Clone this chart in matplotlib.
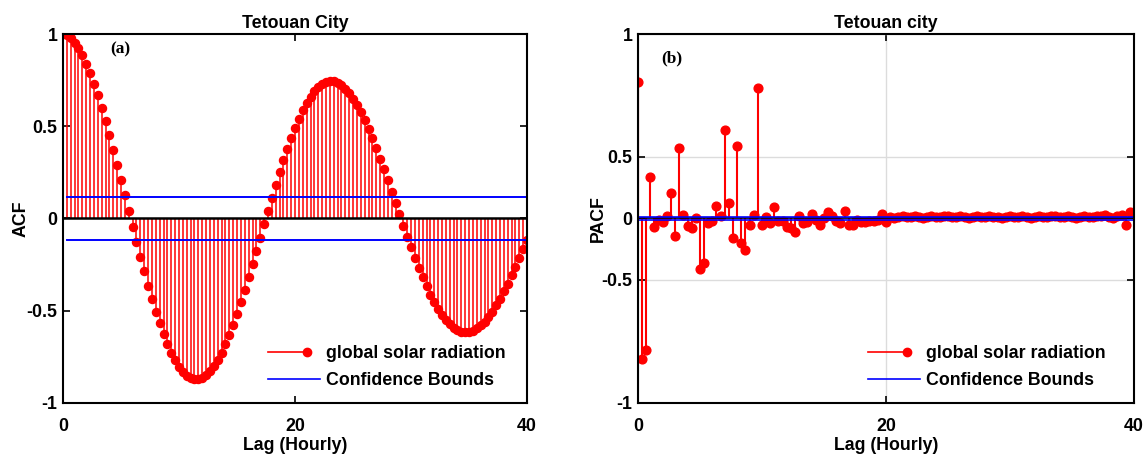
import numpy as np
import matplotlib
matplotlib.use("Agg")
import matplotlib.pyplot as plt
from matplotlib.lines import Line2D
from matplotlib.legend_handler import HandlerBase

plt.rcParams["font.family"] = ["Liberation Sans", "DejaVu Sans"]
plt.rcParams["font.weight"] = "bold"
plt.rcParams["axes.labelweight"] = "bold"
plt.rcParams["axes.titleweight"] = "bold"
plt.rcParams["font.size"] = 12.8

# lags sampled every 20 minutes, 0..40 hours
lags = np.arange(121) / 3

acf = [
    1.000, 0.992, 0.977, 0.953, 0.922, 0.885, 0.839, 0.788, 0.730, 0.668,
    0.600, 0.528, 0.452, 0.373, 0.292, 0.209, 0.125, 0.040, -0.044, -0.127,
    -0.208, -0.287, -0.364, -0.436, -0.505, -0.568, -0.627, -0.680, -0.728, -0.769,
    -0.803, -0.831, -0.852, -0.866, -0.872, -0.872, -0.865, -0.849, -0.829, -0.801,
    -0.767, -0.727, -0.682, -0.631, -0.576, -0.517, -0.454, -0.388, -0.319, -0.249,
    -0.177, -0.104, -0.031, 0.041, 0.113, 0.183, 0.251, 0.316, 0.378, 0.437,
    0.491, 0.541, 0.586, 0.626, 0.660, 0.689, 0.712, 0.728, 0.740, 0.745,
    0.743, 0.736, 0.723, 0.704, 0.680, 0.650, 0.616, 0.577, 0.533, 0.485,
    0.435, 0.381, 0.325, 0.267, 0.207, 0.146, 0.084, 0.023, -0.038, -0.098,
    -0.156, -0.213, -0.268, -0.319, -0.367, -0.412, -0.454, -0.490, -0.523, -0.551,
    -0.574, -0.592, -0.605, -0.613, -0.617, -0.615, -0.608, -0.596, -0.580, -0.559,
    -0.534, -0.505, -0.471, -0.435, -0.395, -0.353, -0.309, -0.263, -0.214, -0.166,
    -0.116,
]

pacf = [
    1.11, -1.14, -1.07, 0.34, -0.07, -0.01, -0.03, 0.02, 0.21, -0.14,
    0.57, 0.03, -0.06, -0.08, 0.00, -0.41, -0.36, -0.04, -0.02, 0.10,
    0.02, 0.72, 0.13, -0.16, 0.59, -0.20, -0.26, -0.05, 0.03, 1.06,
    -0.05, 0.01, -0.04, 0.09, -0.02, -0.02, -0.07, -0.08, -0.11, 0.02,
    -0.04, -0.03, 0.04, -0.01, -0.05, 0.00, 0.05, 0.02, -0.02, -0.04,
    0.06, -0.05, -0.05, -0.01, -0.03, -0.03, -0.02, -0.02, -0.01, 0.04,
    -0.03, 0.01, 0.00, 0.01, 0.02, 0.01, 0.01, 0.02, 0.01, 0.00,
    0.01, 0.02, 0.01, 0.01, 0.02, 0.02, 0.01, 0.01, 0.02, 0.01,
    0.00, 0.01, 0.02, 0.01, 0.01, 0.02, 0.01, 0.01, 0.00, 0.01,
    0.02, 0.01, 0.01, 0.02, 0.01, 0.00, 0.01, 0.02, 0.01, 0.01,
    0.02, 0.02, 0.01, 0.01, 0.02, 0.01, 0.00, 0.01, 0.02, 0.01,
    0.01, 0.02, 0.02, 0.03, 0.01, 0.00, 0.02, 0.03, -0.05, 0.05,
    0.05,
]

acf_bound = 0.115
pacf_bound = 0.01

pacf_ticks = [-1.5, -0.5, 0, 0.5, 1.5]
pacf_ticklabels = ["-1", "-0.5", "0", "0.5", "1"]


class StemKey(HandlerBase):
    """Legend key drawn as a line ending in a filled marker."""

    def create_artists(self, legend, orig, xd, yd, w, h, fontsize, trans):
        y = h / 2 - yd
        end = -xd + 0.75 * w
        line = Line2D([-xd, end], [y, y], color=orig.get_color(), lw=orig.get_linewidth())
        dot = Line2D([end], [y], color=orig.get_color(), marker="o",
                     ms=orig.get_markersize(), linestyle="none")
        line.set_transform(trans)
        dot.set_transform(trans)
        return [line, dot]


def style_axes(ax):
    for s in ax.spines.values():
        s.set_linewidth(1.5)
    ax.tick_params(direction="in", top=True, right=True, length=5, width=1.2)
    ax.tick_params(axis="x", pad=10.5)
    ax.tick_params(axis="y", pad=4)
    ax.set_xlim(0, 40)
    ax.set_xticks([0, 20, 40])
    ax.set_xlabel("Lag (Hourly)", labelpad=1.5)


def add_legend(ax, x0):
    h_stem = Line2D([], [], color="red", lw=1.2, marker="o", ms=6)
    h_bound = Line2D([], [], color="#0000ff", lw=1.2)
    ax.legend([h_stem, h_bound], ["global solar radiation", "Confidence Bounds"],
              handler_map={h_stem: StemKey()}, loc="upper left",
              bbox_to_anchor=(x0, 0.156), frameon=False, borderpad=0,
              borderaxespad=0, handlelength=2.9, handletextpad=0.35,
              labelspacing=0.55)


fig = plt.figure(figsize=(11.48, 4.57), dpi=100)

# (a) autocorrelation
ax1 = fig.add_axes([0.0549, 0.1182, 0.4042, 0.8074])
ml, sl, bl = ax1.stem(lags, acf, linefmt="r-", markerfmt="ro", basefmt="k-")
plt.setp(sl, linewidth=1.1)
plt.setp(ml, markersize=5.8)
plt.setp(bl, linewidth=1.8)
ax1.plot([lags[1], lags[-1]], [acf_bound, acf_bound], color="#0000ff", lw=1.4)
ax1.plot([lags[1], lags[-1]], [-acf_bound, -acf_bound], color="#0000ff", lw=1.4)
ax1.set_ylim(-1, 1)
ax1.set_yticks([-1, -0.5, 0, 0.5, 1])
ax1.set_yticklabels(["-1", "-0.5", "0", "0.5", "1"])
style_axes(ax1)
ax1.set_ylabel("ACF", labelpad=-2)
ax1.set_title("Tetouan City", fontsize=12.8, pad=4)
ax1.text(0.101, 0.957, "(a)", transform=ax1.transAxes, ha="left", va="center",
         fontfamily="Liberation Serif", fontweight="bold", fontsize=12.5)
add_legend(ax1, 0.442)

# (b) partial autocorrelation
ax2 = fig.add_axes([0.5557, 0.1182, 0.4321, 0.8074])
ax2.grid(True, color="#dcdcdc", lw=1)
ax2.set_axisbelow(True)
ml, sl, bl = ax2.stem(lags, pacf, linefmt="r-", markerfmt="ro", basefmt="k-")
plt.setp(sl, linewidth=1.5)
plt.setp(ml, markersize=6.3)
plt.setp(bl, linewidth=1.2)
ax2.plot([lags[0], lags[-1]], [pacf_bound, pacf_bound], color="#0000ff", lw=1.2)
ax2.plot([lags[0], lags[-1]], [-pacf_bound, -pacf_bound], color="#0000ff", lw=1.2)
ax2.set_ylim(-1.5, 1.5)
ax2.set_yticks(pacf_ticks)
ax2.set_yticklabels(pacf_ticklabels)
style_axes(ax2)
ax2.set_ylabel("PACF", labelpad=-4)
ax2.set_title("Tetouan city", fontsize=12.8, pad=4)
ax2.text(0.046, 0.935, "(b)", transform=ax2.transAxes, ha="left", va="center",
         fontfamily="Liberation Serif", fontweight="bold", fontsize=12.5)
add_legend(ax2, 0.464)

fig.savefig("out.png", dpi=100, facecolor="white")
